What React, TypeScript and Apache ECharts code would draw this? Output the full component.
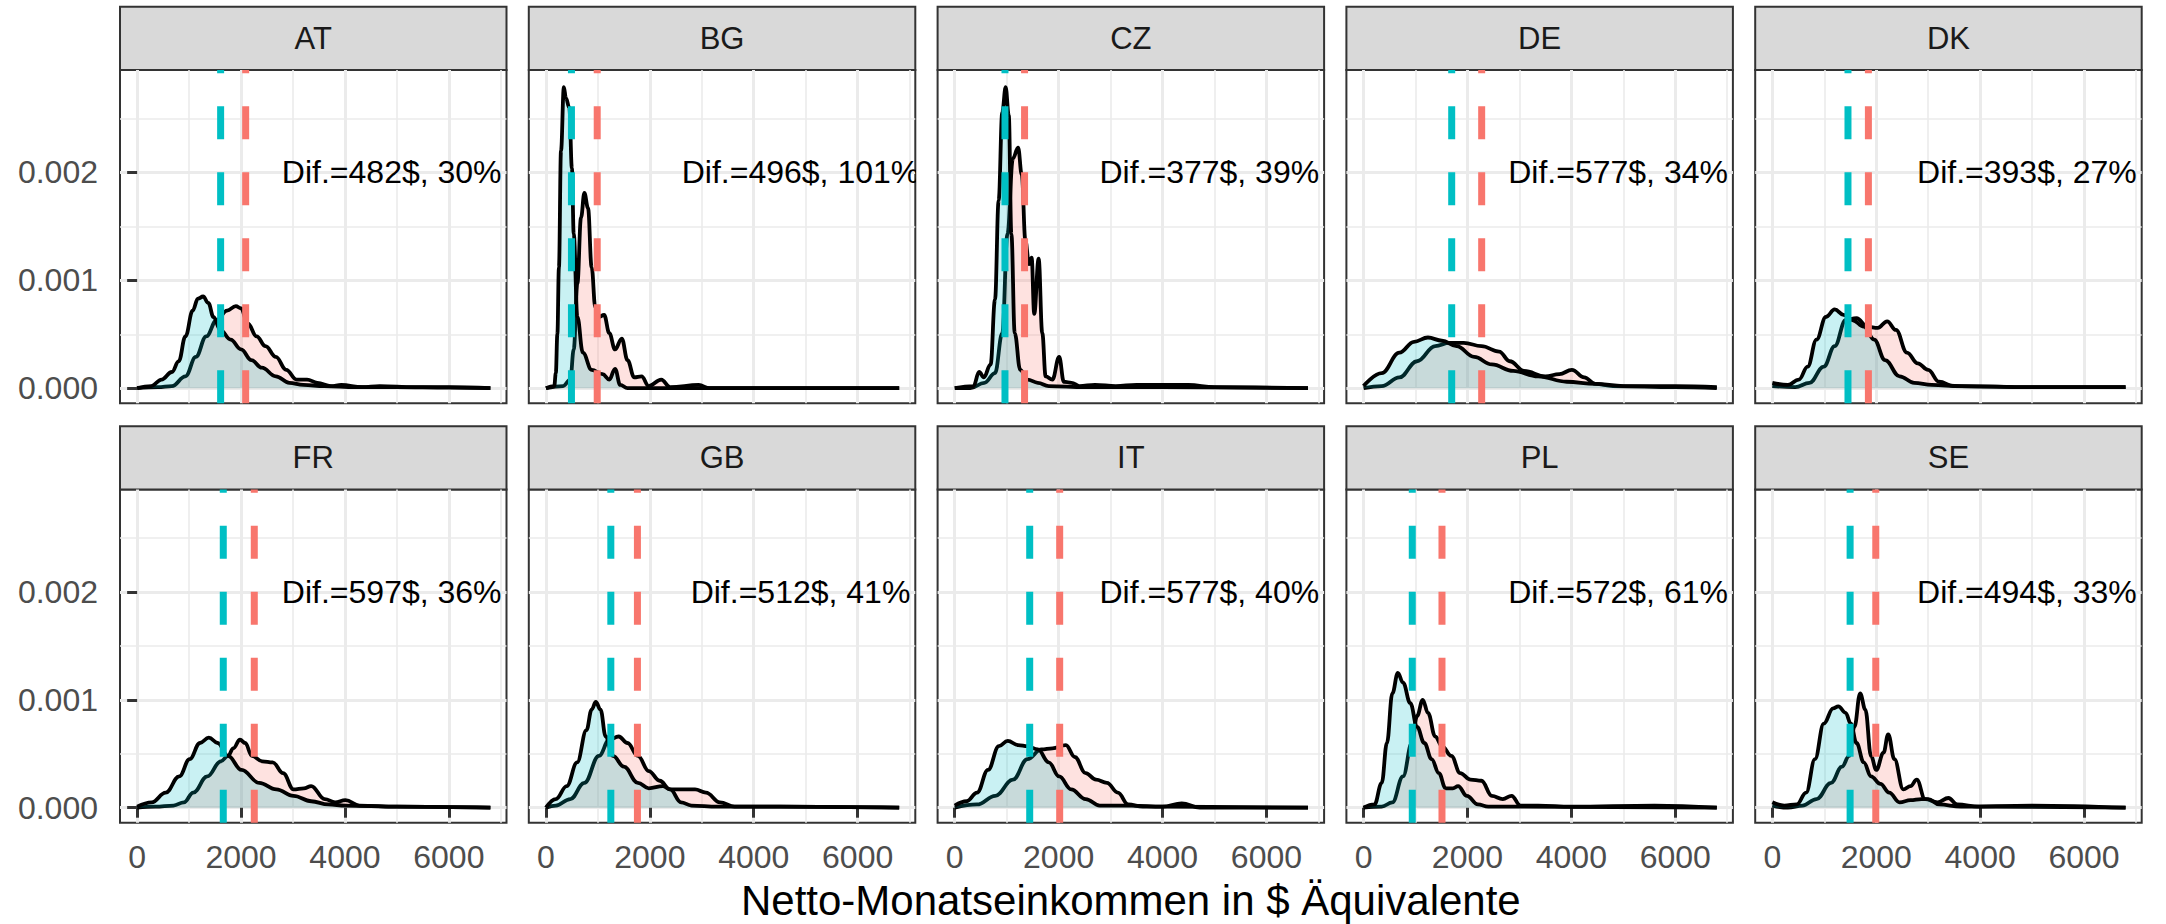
import React, { useEffect, useRef } from "react";
import * as echarts from "echarts";

const FONT = "'Liberation Sans', Arial, Helvetica, sans-serif";

const countries = ["AT", "BG", "CZ", "DE", "DK", "FR", "GB", "IT", "PL", "SE"];
const difLabels = [
  "Dif.=482$, 30%", "Dif.=496$, 101%", "Dif.=377$, 39%", "Dif.=577$, 34%", "Dif.=393$, 27%",
  "Dif.=597$, 36%", "Dif.=512$, 41%", "Dif.=577$, 40%", "Dif.=572$, 61%", "Dif.=494$, 33%",
];
// mean incomes (teal = lower group, red = higher group)
const meanTeal = [1607, 491, 967, 1697, 1456, 1658, 1249, 1443, 938, 1497];
const meanRed = [2089, 987, 1344, 2274, 1849, 2255, 1761, 2020, 1510, 1991];

const xTicks = [0, 2000, 4000, 6000];
const xMinor = [1000, 3000, 5000, 7000];
const yTicks = [0, 0.001, 0.002];
const yMinor = [0.0005, 0.0015, 0.0025];
const X_MIN = -330, X_MAX = 7110;
const Y_MIN = -0.00014, Y_MAX = 0.00295;
const LABEL_X = 4900, LABEL_Y = 0.002;

// density curves [income, density]
const atRed = [[0,0],[400,0.00001],[670,0.00002],[930,0.00011],[1130,0.00029],[1330,0.00048],[1530,0.00063],[1730,0.00072],[1900,0.00076],[2000,0.00074],[2130,0.0006],[2300,0.00048],[2470,0.00039],[2670,0.00029],[2870,0.00017],[3070,0.00008],[3270,0.00008],[3470,0.00005],[3730,0.00002],[3930,0.00003],[4330,0.00001],[4670,0.00002],[5330,0.00001],[6000,0.00001],[6800,0]];
const atTeal = [[0,0],[270,0.00002],[470,0.00008],[670,0.00015],[800,0.00025],[930,0.00048],[1070,0.00072],[1170,0.00083],[1270,0.00085],[1370,0.00079],[1470,0.00066],[1600,0.00054],[1800,0.00045],[2000,0.00036],[2200,0.00026],[2400,0.00019],[2670,0.00011],[2930,0.00005],[3200,0.00003],[3600,0.00002],[4200,0.00001],[5000,0.00001],[6000,0.000005],[6800,0]];
const bgRed = [[0,0],[330,0.00002],[470,0.00008],[535,0.00036],[605,0.00097],[675,0.00158],[740,0.00181],[810,0.00167],[880,0.00112],[950,0.00075],[1020,0.00066],[1120,0.00068],[1220,0.00051],[1330,0.00036],[1460,0.00046],[1570,0.00026],[1700,0.0001],[1840,0.00011],[1980,0.00002],[2220,0.00008],[2390,0.00001],[2940,0.00003],[3150,0],[6800,0]];
const bgTeal = [[0,0],[160,0.00002],[190,0.00014],[220,0.0005],[250,0.00112],[290,0.0022],[345,0.00279],[385,0.00269],[450,0.0026],[500,0.00204],[535,0.00143],[605,0.00066],[710,0.00033],[880,0.00017],[1090,0.00013],[1220,0.00008],[1330,0.00018],[1430,0.00003],[1570,0],[3000,0],[6800,0]];
const czRed = [[0,0],[300,0],[570,0.00005],[775,0.00014],[915,0.00051],[1015,0.00143],[1120,0.00213],[1220,0.00223],[1290,0.00198],[1360,0.00137],[1430,0.00115],[1480,0.00121],[1530,0.00069],[1615,0.0012],[1685,0.00051],[1750,0.00011],[1880,0.00008],[2010,0.00029],[2100,0.00006],[2250,0.00005],[2400,0.00002],[2700,0.00003],[3100,0.00002],[3500,0.00003],[4500,0.00003],[5000,0.00001],[6800,0]];
const czTeal = [[0,0],[360,0.00002],[470,0.00015],[560,0.0001],[690,0.00022],[775,0.00082],[845,0.00174],[915,0.00256],[980,0.00279],[1040,0.00253],[1090,0.00143],[1155,0.00051],[1260,0.00017],[1400,0.00008],[1600,0.00005],[1810,0.00002],[2500,0.00001],[4000,0.00001],[6800,0]];
const deRed = [[0,0],[350,0.00002],[690,0.0001],[1030,0.00025],[1380,0.00039],[1650,0.00042],[1930,0.00042],[2270,0.00039],[2610,0.00034],[2815,0.00025],[3090,0.00016],[3500,0.00011],[3770,0.00013],[4010,0.00017],[4250,0.0001],[4460,0.00004],[4800,0.00002],[6000,0.00001],[6800,0]];
const deTeal = [[0,0.00002],[350,0.00014],[690,0.00033],[970,0.00043],[1240,0.00047],[1510,0.00044],[1790,0.00039],[2130,0.00029],[2470,0.00022],[2880,0.00016],[3360,0.00011],[3910,0.00006],[4460,0.00004],[5000,0.00002],[6000,0.00002],[6800,0.00001]];
const dkRed = [[0,0.00002],[440,0.00001],[715,0.00005],[990,0.0002],[1200,0.00039],[1410,0.00063],[1620,0.00065],[1830,0.00057],[2030,0.00056],[2210,0.00062],[2380,0.00054],[2590,0.00033],[2800,0.00023],[3000,0.00017],[3210,0.00006],[3490,0.00002],[5000,0.00001],[6800,0.00001]];
const dkTeal = [[0,0.00005],[300,0.00003],[510,0.00008],[680,0.0002],[850,0.00045],[1030,0.00066],[1200,0.00073],[1370,0.00068],[1550,0.00063],[1760,0.00057],[1960,0.00045],[2170,0.00026],[2450,0.00011],[2730,0.00005],[3070,0.00003],[3630,0.00002],[5000,0.00001],[6000,0.00001],[6800,0.00001]];
const frRed = [[0,0],[350,0.00001],[700,0.00002],[900,0.00005],[1080,0.00014],[1350,0.00029],[1610,0.00043],[1750,0.00048],[1850,0.00055],[1980,0.00063],[2080,0.0006],[2210,0.00048],[2410,0.00043],[2610,0.00042],[2810,0.00032],[3010,0.00017],[3210,0.00018],[3350,0.0002],[3610,0.00008],[3810,0.00005],[4010,0.00007],[4280,0.00002],[5000,0.00001],[6800,0]];
const frTeal = [[0,0.00001],[280,0.00005],[550,0.00014],[810,0.00029],[1010,0.00045],[1210,0.0006],[1380,0.00065],[1550,0.0006],[1750,0.00048],[2010,0.00035],[2350,0.00023],[2680,0.00017],[3010,0.00011],[3350,0.00006],[3680,0.00003],[4010,0.00002],[5000,0.00001],[6800,0]];
const gbRed = [[0,0],[190,0.00002],[470,0.00008],[740,0.00023],[1020,0.00048],[1220,0.00063],[1400,0.00066],[1570,0.0006],[1770,0.00048],[1980,0.00034],[2190,0.00025],[2390,0.00017],[2600,0.00017],[2870,0.00017],[3080,0.00014],[3350,0.00005],[3630,0.00001],[4500,0.00001],[6800,0]];
const gbTeal = [[0,0],[190,0.00008],[400,0.0002],[600,0.00042],[780,0.00072],[880,0.00091],[960,0.00098],[1050,0.00091],[1150,0.00066],[1290,0.00048],[1500,0.00038],[1770,0.00023],[1980,0.00018],[2250,0.0002],[2390,0.00017],[2600,0.00005],[2800,0.00002],[3300,0.00001],[4500,0.00001],[6800,0]];
const itRed = [[0,0],[430,0.00003],[780,0.00011],[1120,0.00026],[1400,0.00045],[1670,0.00054],[1880,0.00055],[2140,0.00058],[2310,0.00047],[2520,0.00032],[2720,0.00026],[2930,0.00023],[3140,0.00014],[3340,0.00003],[3620,0.00001],[4000,0.00001],[4370,0.00004],[4720,0],[6800,0]];
const itTeal = [[0,0.00002],[230,0.00006],[430,0.00014],[640,0.00035],[850,0.00057],[1020,0.00062],[1220,0.00058],[1400,0.00057],[1600,0.00054],[1810,0.00042],[2010,0.00029],[2240,0.00017],[2520,0.00008],[2790,0.00002],[3400,0.00002],[4000,0.00001],[6800,0]];
const plRed = [[0,0],[350,0.00001],[555,0.00005],[760,0.00029],[930,0.0006],[1030,0.00085],[1140,0.001],[1240,0.00088],[1380,0.00066],[1510,0.00057],[1690,0.00048],[1860,0.00032],[2060,0.00026],[2270,0.00025],[2470,0.00011],[2680,0.00008],[2850,0.00011],[3020,0.00002],[3360,0.00002],[4000,0.00001],[5600,0.00002],[6800,0]];
const plTeal = [[0,0],[210,0.00003],[350,0.00023],[450,0.0006],[555,0.00106],[660,0.00125],[760,0.00116],[900,0.00097],[1030,0.00075],[1170,0.0006],[1310,0.00045],[1450,0.00032],[1580,0.00018],[1720,0.00018],[1820,0.0002],[1990,0.00011],[2200,0.00003],[2400,0.00001],[6800,0]];
const seRed = [[0,0.00002],[300,0],[580,0.00002],[850,0.00008],[1130,0.00023],[1340,0.00038],[1480,0.00048],[1580,0.00075],[1690,0.00106],[1790,0.00091],[1900,0.00048],[2000,0.00035],[2140,0.00051],[2230,0.00068],[2350,0.00045],[2520,0.00017],[2660,0.0002],[2780,0.00026],[2940,0.00008],[3180,0.00005],[3390,0.00009],[3560,0.00003],[3980,0.00001],[6800,0]];
const seTeal = [[0,0.00005],[230,0.00002],[470,0.00003],[650,0.00014],[820,0.00045],[990,0.00078],[1170,0.00092],[1270,0.00094],[1410,0.00088],[1510,0.00078],[1620,0.0006],[1760,0.00042],[1900,0.00029],[2080,0.00022],[2250,0.00014],[2450,0.00005],[2660,0.00007],[2870,0.00008],[3000,0.00008],[3210,0.00003],[3630,0.00001],[5000,0.00002],[6800,0]];

const redCurves = [atRed, bgRed, czRed, deRed, dkRed, frRed, gbRed, itRed, plRed, seRed];
const tealCurves = [atTeal, bgTeal, czTeal, deTeal, dkTeal, frTeal, gbTeal, itTeal, plTeal, seTeal];

// layout
const PANEL_LEFT0 = 120;
const PANEL_W = 386.5;
const GAP = 22.3;
const ROW_TOP = [70, 489.5];
const PANEL_H = 333.3;
const STRIP_H = 63.3;

const RED = "#F8766D";
const TEAL = "#00BFC4";

function buildOption() {
  const grids: any[] = [];
  const xAxes: any[] = [];
  const yAxes: any[] = [];
  const series: any[] = [];
  const graphics: any[] = [];

  countries.forEach((c, i) => {
    const row = Math.floor(i / 5);
    const col = i % 5;
    const left = PANEL_LEFT0 + col * (PANEL_W + GAP);
    const top = ROW_TOP[row];
    grids.push({
      left, top, width: PANEL_W, height: PANEL_H,
      containLabel: false, show: true,
      backgroundColor: "#FFFFFF", borderColor: "#333333", borderWidth: 2,
    });
    const bottomRow = row === 1;
    const leftCol = col === 0;
    xAxes.push({
      type: "value", gridIndex: i, min: X_MIN, max: X_MAX,
      axisLine: { show: false },
      axisTick: { show: bottomRow, customValues: xTicks, length: 10, lineStyle: { color: "#333333", width: 3 } },
      axisLabel: {
        show: bottomRow, customValues: xTicks, color: "#4D4D4D", fontSize: 32, fontFamily: FONT, margin: 18,
        formatter: (v: number) => String(Math.round(v)),
      },
      splitLine: { show: true, lineStyle: { color: "#EBEBEB", width: 3 } },
    });
    yAxes.push({
      type: "value", gridIndex: i, min: Y_MIN, max: Y_MAX,
      axisLine: { show: false },
      axisTick: { show: leftCol, customValues: yTicks, length: 10, lineStyle: { color: "#333333", width: 3 } },
      axisLabel: {
        show: leftCol, customValues: yTicks, color: "#4D4D4D", fontSize: 32, fontFamily: FONT, margin: 22,
        formatter: (v: number) => v.toFixed(3),
      },
      splitLine: { show: true, lineStyle: { color: "#EBEBEB", width: 3 } },
    });

    // strip
    graphics.push({
      type: "rect", silent: true,
      shape: { x: left, y: top - STRIP_H, width: PANEL_W, height: STRIP_H },
      style: { fill: "#D9D9D9", stroke: "#333333", lineWidth: 2 },
    });
    graphics.push({
      type: "text", silent: true,
      x: left + PANEL_W / 2, y: top - STRIP_H / 2,
      style: { text: c, fill: "#1A1A1A", fontSize: 31, fontFamily: FONT, align: "center", verticalAlign: "middle" },
    });
  });

  // minor grid axes
  countries.forEach((c, i) => {
    xAxes.push({
      type: "value", gridIndex: i, min: X_MIN, max: X_MAX,
      axisLine: { show: false },
      axisTick: { show: false, customValues: xMinor },
      axisLabel: { show: false, customValues: xMinor },
      splitLine: { show: true, lineStyle: { color: "#EBEBEB", width: 1.6 } },
    });
    yAxes.push({
      type: "value", gridIndex: i, min: Y_MIN, max: Y_MAX,
      axisLine: { show: false },
      axisTick: { show: false, customValues: yMinor },
      axisLabel: { show: false, customValues: yMinor },
      splitLine: { show: true, lineStyle: { color: "#EBEBEB", width: 1.6 } },
    });
  });

  countries.forEach((c, i) => {
    const common = {
      type: "line", xAxisIndex: i, yAxisIndex: i, symbol: "none", silent: true,
      smooth: 0.4, smoothMonotone: "x",
      lineStyle: { color: "#000000", width: 3.8 },
    };
    series.push({ ...common, name: c + " M", data: redCurves[i], z: 2, areaStyle: { color: "rgba(248,118,109,0.3)", origin: 0 } });
    series.push({ ...common, name: c + " F", data: tealCurves[i], z: 3, areaStyle: { color: "rgba(0,191,196,0.3)", origin: 0 } });
    series.push({
      type: "line", xAxisIndex: i, yAxisIndex: i, symbol: "none", silent: true, z: 4,
      data: [[meanTeal[i], Y_MIN], [meanTeal[i], Y_MAX]],
      lineStyle: { color: TEAL, width: 7, type: [33, 33], cap: "butt" },
    });
    series.push({
      type: "line", xAxisIndex: i, yAxisIndex: i, symbol: "none", silent: true, z: 4,
      data: [[meanRed[i], Y_MIN], [meanRed[i], Y_MAX]],
      lineStyle: { color: RED, width: 7, type: [33, 33], cap: "butt" },
    });
    series.push({
      type: "custom", xAxisIndex: i, yAxisIndex: i, silent: true, clip: true, z: 5,
      data: [[LABEL_X, LABEL_Y]],
      renderItem: (params: any, api: any) => {
        const p = api.coord([api.value(0), api.value(1)]);
        return {
          type: "text", x: p[0], y: p[1],
          style: { text: difLabels[i], fill: "#000000", fontSize: 32, fontFamily: FONT, align: "center", verticalAlign: "middle" },
        };
      },
    });
  });

  graphics.push({
    type: "text", silent: true,
    x: PANEL_LEFT0 + (5 * PANEL_W + 4 * GAP) / 2, y: 900,
    style: { text: "Netto-Monatseinkommen in $ Äquivalente", fill: "#000000", fontSize: 42, fontFamily: FONT, align: "center", verticalAlign: "middle" },
  });

  return {
    animation: false,
    backgroundColor: "#FFFFFF",
    grid: grids,
    xAxis: xAxes,
    yAxis: yAxes,
    series,
    graphic: graphics,
  };
}

export default function App() {
  const ref = useRef<HTMLDivElement>(null);
  useEffect(() => {
    if (!ref.current) return;
    const chart = echarts.init(ref.current, undefined, { renderer: "svg" });
    chart.setOption(buildOption() as any);
    return () => chart.dispose();
  }, []);
  return (
    <div
      ref={ref}
      style={{ position: "fixed", left: 0, top: 0, width: 2166, height: 924, background: "#FFFFFF" }}
    />
  );
}
